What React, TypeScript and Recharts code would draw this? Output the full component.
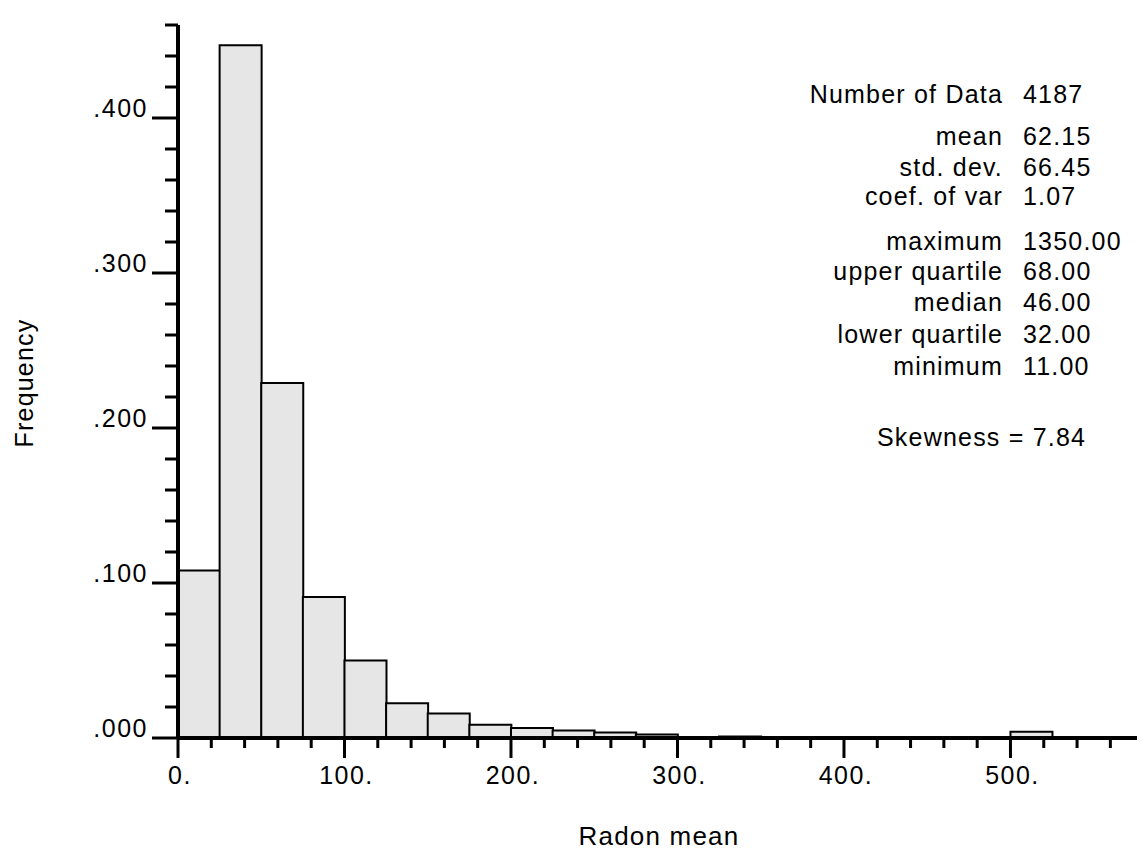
import { Bar, BarChart, XAxis, YAxis } from "recharts";

// Histogramme des moyennes de radon, classes de 25.
const binStarts = [
  0, 25, 50, 75, 100, 125, 150, 175, 200, 225, 250, 275, 300, 325, 350, 375, 400, 425, 450, 475, 500, 525,
  550,
];
const frequencies = [
  0.108, 0.447, 0.229, 0.091, 0.05, 0.0224, 0.0158, 0.0085, 0.0065, 0.0048, 0.0036, 0.0022, 0.0003, 0.001,
  0.0003, 0.0003, 0.0002, 0.0002, 0.0002, 0.0002, 0.004, 0.0003, 0.0002,
];
const binWidth = 25;

const xTicks = [0, 20, 40, 60, 80, 100, 120, 140, 160, 180, 200, 220, 240, 260, 280, 300, 320, 340, 360, 380, 400, 420, 440, 460, 480, 500, 520, 540, 560];
const xMajorTicks = [0, 100, 200, 300, 400, 500];
const xMajorLabels = ["0.", "100.", "200.", "300.", "400.", "500."];

const yTicks = [0, 0.02, 0.04, 0.06, 0.08, 0.1, 0.12, 0.14, 0.16, 0.18, 0.2, 0.22, 0.24, 0.26, 0.28, 0.3, 0.32, 0.34, 0.36, 0.38, 0.4, 0.42, 0.44, 0.46];
const yMajorTicks = [0, 0.1, 0.2, 0.3, 0.4];
const yMajorLabels = [".000", ".100", ".200", ".300", ".400"];

const statLabels = ["Number of Data", "mean", "std. dev.", "coef. of var", "maximum", "upper quartile", "median", "lower quartile", "minimum"];
const statValues = ["4187", "62.15", "66.45", "1.07", "1350.00", "68.00", "46.00", "32.00", "11.00"];
const statBaselines = [103, 145, 176, 205, 250, 280, 311, 343, 375];
const skewnessText = "Skewness = 7.84";

const FONT = "'Liberation Sans', Arial, Helvetica, sans-serif";

const data = binStarts.map((start, i) => ({ x: start + binWidth / 2, freq: frequencies[i] }));

function findIndex(list: number[], v: number) {
  return list.findIndex((t) => Math.abs(t - v) < 1e-9);
}

function YTick({ x, y, payload }: any) {
  const idx = findIndex(yMajorTicks, payload.value);
  const major = idx >= 0;
  return (
    <g>
      <line x1={x} x2={x - (major ? 26 : 13)} y1={y} y2={y} stroke="#000" strokeWidth={3} />
      {major && (
        <text x={x - 30} y={y - 1} textAnchor="end" fontSize={25} letterSpacing={1.5} fontFamily={FONT} fill="#000">
          {yMajorLabels[idx]}
        </text>
      )}
    </g>
  );
}

function XTick({ x, y, payload }: any) {
  const idx = findIndex(xMajorTicks, payload.value);
  const major = idx >= 0;
  return (
    <g>
      <line x1={x} x2={x} y1={y} y2={y + (major ? 20 : 10)} stroke="#000" strokeWidth={3} />
      {major && (
        <text x={x + 2} y={y + 46} textAnchor="middle" fontSize={25} letterSpacing={1.5} fontFamily={FONT} fill="#000">
          {xMajorLabels[idx]}
        </text>
      )}
    </g>
  );
}

export default function App() {
  return (
    <div style={{ position: "relative", width: 1148, height: 864, margin: -8, background: "#fff" }}>
      <BarChart
        width={1148}
        height={864}
        data={data}
        margin={{ top: 25, right: 11, bottom: 66, left: 118 }}
        barCategoryGap={0}
        barGap={0}
      >
        <XAxis
          dataKey="x"
          type="number"
          domain={[0, 576]}
          allowDataOverflow
          ticks={xTicks}
          interval={0}
          height={60}
          tickSize={0}
          tickMargin={0}
          tickLine={false}
          axisLine={{ stroke: "#000", strokeWidth: 4 }}
          tick={<XTick />}
        />
        <YAxis
          type="number"
          domain={[0, 0.46]}
          allowDataOverflow
          ticks={yTicks}
          interval={0}
          width={60}
          tickSize={0}
          tickMargin={0}
          tickLine={false}
          axisLine={{ stroke: "#000", strokeWidth: 4 }}
          tick={<YTick />}
        />
        <Bar dataKey="freq" fill="#e6e6e6" stroke="#000" strokeWidth={2} isAnimationActive={false} />
      </BarChart>
      <svg
        width={1148}
        height={864}
        style={{ position: "absolute", left: 0, top: 0, pointerEvents: "none" }}
        fontFamily={FONT}
        fontSize={25}
        fill="#000"
      >
        {statLabels.map((label, i) => (
          <g key={label}>
            <text x={1003} y={statBaselines[i]} textAnchor="end" letterSpacing={1.2}>
              {label}
            </text>
            <text x={1023} y={statBaselines[i]} letterSpacing={1.2}>
              {statValues[i]}
            </text>
          </g>
        ))}
        <text x={877} y={446} letterSpacing={1.2}>
          {skewnessText}
        </text>
        <text x={659} y={845} textAnchor="middle" fontSize={26} letterSpacing={1.2}>
          Radon mean
        </text>
        <text x={33} y={383} textAnchor="middle" letterSpacing={1.2} transform="rotate(-90 33 383)">
          Frequency
        </text>
      </svg>
    </div>
  );
}
